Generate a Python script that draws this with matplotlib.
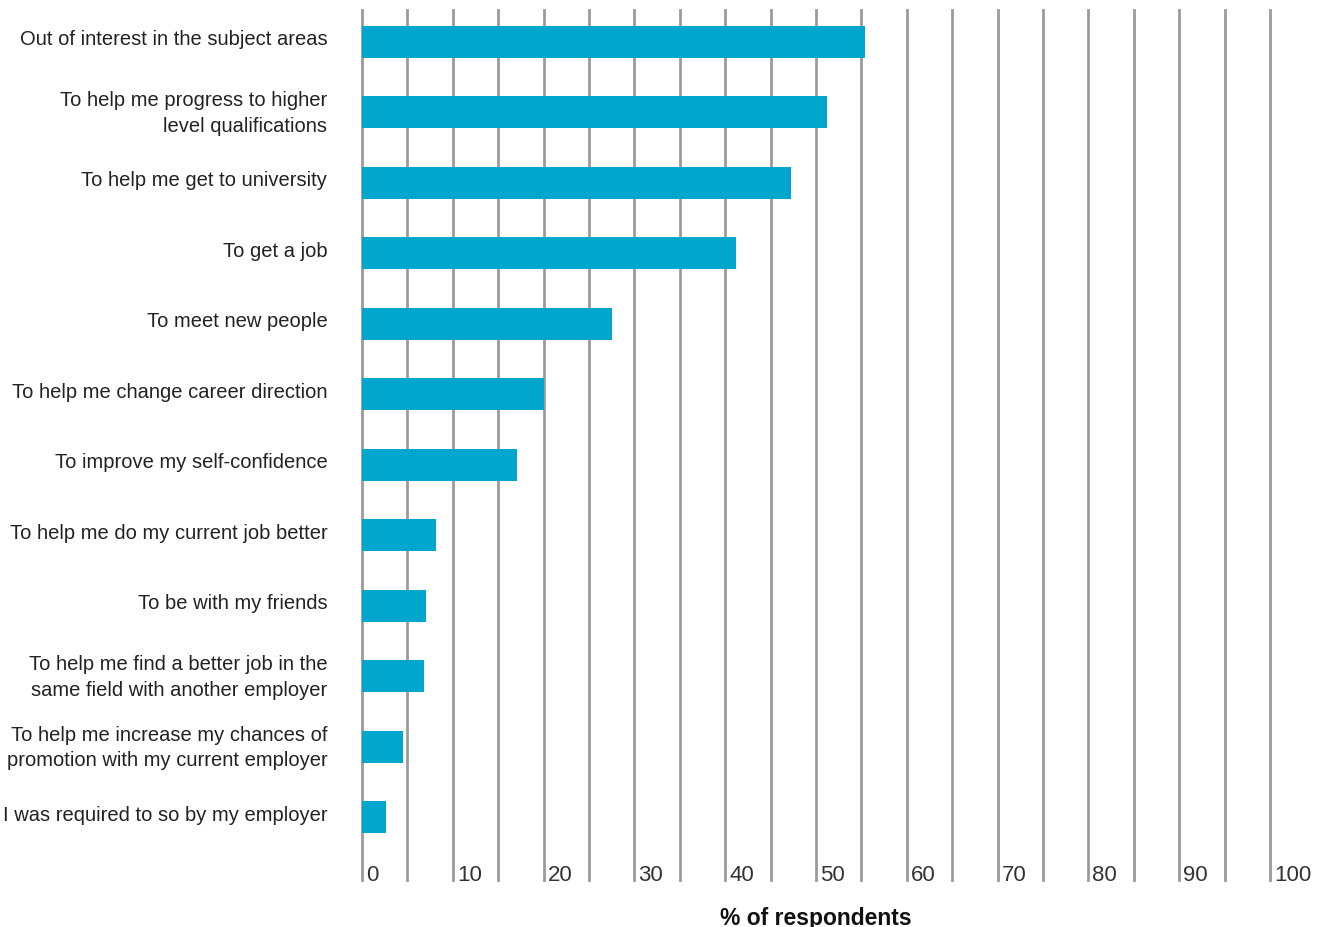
import numpy as np
import matplotlib
matplotlib.use("Agg")
import matplotlib.pyplot as plt
from matplotlib.transforms import ScaledTranslation

reasons = [
    "Out of interest in the subject areas",
    "To help me progress to higher\nlevel qualifications",
    "To help me get to university",
    "To get a job",
    "To meet new people",
    "To help me change career direction",
    "To improve my self-confidence",
    "To help me do my current job better",
    "To be with my friends",
    "To help me find a better job in the\nsame field with another employer",
    "To help me increase my chances of\npromotion with my current employer",
    "I was required to so by my employer",
]
pct = [55.4, 51.2, 47.2, 41.2, 27.5, 20.0, 17.1, 8.1, 7.0, 6.8, 4.5, 2.6]
major = list(range(0, 101, 10))
minor = list(range(5, 100, 10))

plt.rcParams['font.family'] = ['Liberation Sans', 'DejaVu Sans']

W, H = 1322, 927
fig = plt.figure(figsize=(W / 100, H / 100), dpi=100)
ax = fig.add_axes([362 / W, 1 - 880 / H, (1270 - 362) / W, 870 / H])

y = np.arange(len(reasons))
ax.barh(y, pct, height=0.454, color="#00a6cc", zorder=3)
ax.set_ylim(11.894, -0.454)
ax.set_xlim(0, 100)

ax.set_yticks(y)
ax.set_yticklabels(reasons, fontsize=14.5, color="#222222", linespacing=1.45)
ax.tick_params(axis="y", length=0, pad=25)
up = ScaledTranslation(0, 4 / 100, fig.dpi_scale_trans)
for t in ax.get_yticklabels():
    t.set_horizontalalignment("right")
    t.set_transform(t.get_transform() + up)

ax.set_xticks(major)
ax.set_xticks(minor, minor=True)
ax.set_xticklabels([str(v) for v in major], fontsize=16, color="#333333")
ax.tick_params(axis="x", which="both", length=0, pad=-11)
shift = ScaledTranslation(4 / 100, 0, fig.dpi_scale_trans)
for t in ax.get_xticklabels():
    t.set_horizontalalignment("left")
    t.set_transform(t.get_transform() + shift)

# vertical grid every 5 %, not clipped so the edge lines at 0 and 100 show fully
for v in sorted(major + minor):
    ax.axvline(v, color="#9a9a9e", linewidth=2, zorder=0, clip_on=False)
for s in ax.spines.values():
    s.set_visible(False)

ax.set_xlabel("% of respondents", fontsize=16.5, fontweight="bold", color="#111111", labelpad=15)

fig.savefig("out.png", dpi=100)
